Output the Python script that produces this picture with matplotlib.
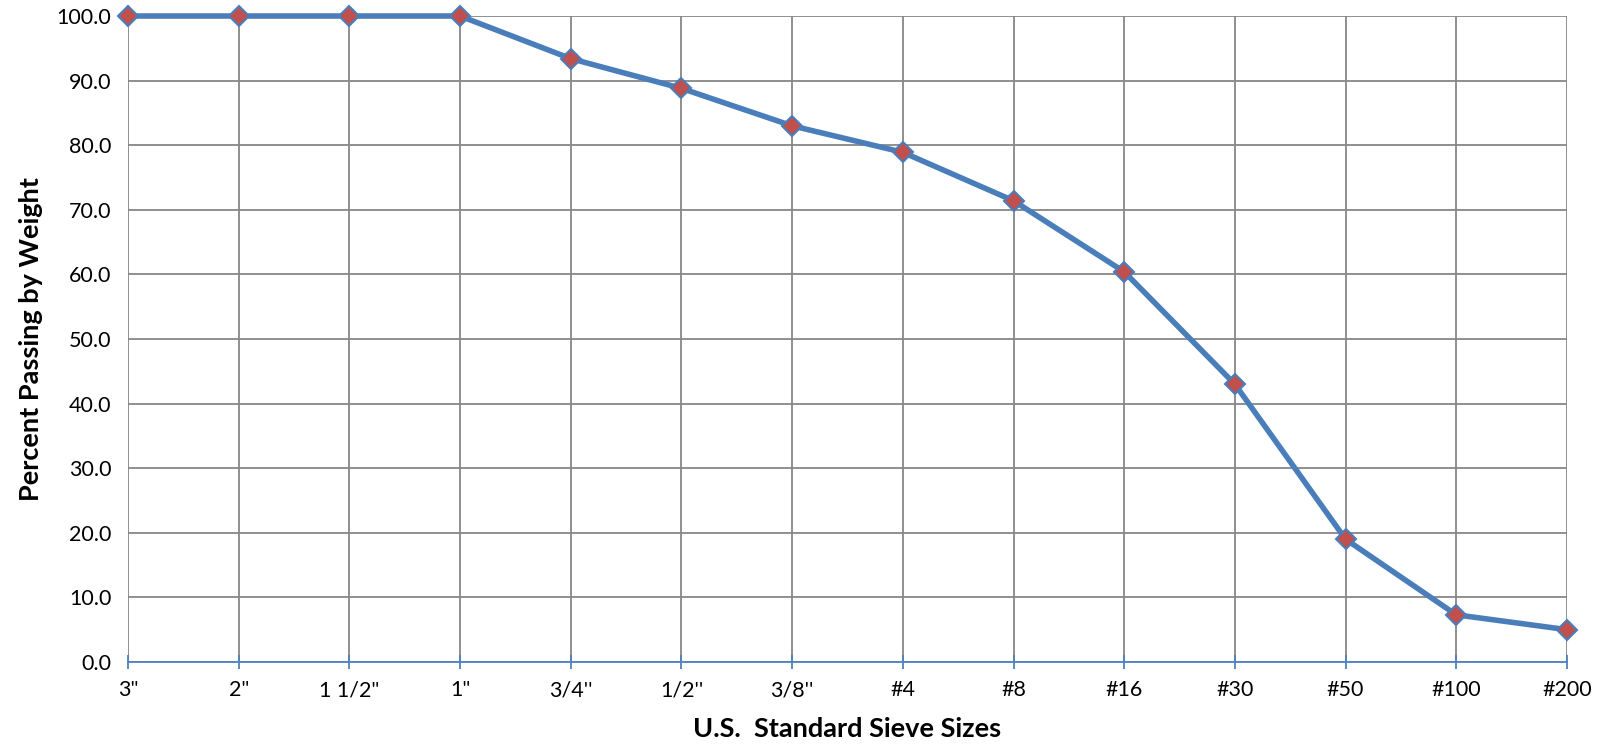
import matplotlib
matplotlib.use("Agg")
import matplotlib.pyplot as plt
import numpy as np

# sieve analysis - gradation curve
sieves = ['3"', '2"', '1 1/2"', '1"', "3/4''", "1/2''", "3/8''", "#4", "#8", "#16", "#30", "#50", "#100", "#200"]
passing = [100.0, 100.0, 100.0, 100.0, 93.4, 88.8, 83.0, 78.9, 71.4, 60.4, 43.0, 19.0, 7.3, 5.0]

plt.rcParams['font.family'] = ['Lato', 'DejaVu Sans']

fig = plt.figure(figsize=(16.06, 7.48), dpi=100)
ax = fig.add_axes([0.0797, 0.115, 0.896, 0.8636])

x = np.arange(len(sieves))
ax.plot(x, passing, color="#4A7EBB", linewidth=4, marker="D", markersize=10,
        markerfacecolor="#C0504D", markeredgecolor="#4A7EBB", markeredgewidth=1.5,
        zorder=3, clip_on=False)

ax.set_xlim(0, len(sieves) - 1)
ax.set_ylim(0, 100)
ax.set_xticks(x)
ax.set_xticklabels(sieves)
ax.set_yticks(np.arange(0, 101, 10))
ax.set_yticklabels([f"{v:.1f}" for v in np.arange(0, 101, 10)])

ax.grid(True, color="#878787", linewidth=1.3)
ax.set_axisbelow(True)
for s in ["top", "right", "left"]:
    ax.spines[s].set_visible(False)
ax.spines["bottom"].set_color("#4F81BD")
ax.spines["bottom"].set_linewidth(1.3)
ax.spines["bottom"].set_zorder(2.5)

ax.tick_params(axis="x", direction="inout", length=10, width=1.3, color="#4F81BD",
               labelsize=15.5, pad=8)
ax.tick_params(axis="y", length=0, labelsize=15.5, pad=12)

ax.set_xlabel("U.S.  Standard Sieve Sizes", fontsize=19.5, fontweight="bold", labelpad=12)
ax.set_ylabel("Percent Passing by Weight", fontsize=19.5, fontweight="bold", labelpad=10)

plt.savefig("out.png", dpi=100)
